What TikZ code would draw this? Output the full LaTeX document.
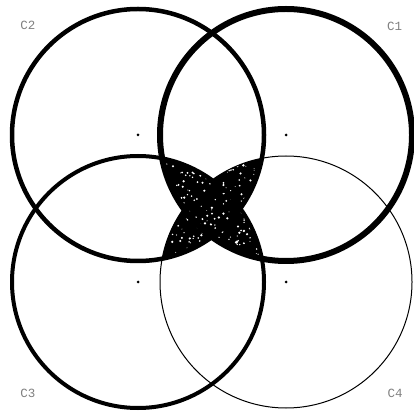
\documentclass[tikz,border=0pt]{standalone}
\usepackage{fontspec}
\newfontfamily\labfont{Liberation Mono}
\begin{document}
\begin{tikzpicture}[x=1pt,y=1pt,
  lab/.style={font=\labfont\fontsize{12.5}{14}\selectfont, text=black!50, inner sep=0pt},
  speck/.style={fill=white, draw=none}]
\useasboundingbox (0,0) rectangle (414,412);
\def\R{126}
\coordinate (c1) at (286,277);
\coordinate (c2) at (138,277);
\coordinate (c3) at (138,130);
\coordinate (c4) at (286,130);
% textured fill of the two lenses
\pgfmathsetseed{11}
\begin{scope}
  \clip (c2) circle (\R);
  \clip (c4) circle (\R);
  \fill[black] (150,140) rectangle (275,275);
  \foreach \i in {1,...,320} {
    \pgfmathsetmacro\xx{155+115*rnd}
    \pgfmathsetmacro\yy{145+125*rnd}
    \pgfmathsetmacro\rr{0.4+0.9*rnd}
    \fill[speck] (\xx,\yy) circle (\rr);
  }
\end{scope}
\begin{scope}
  \clip (c1) circle (\R);
  \clip (c3) circle (\R);
  \fill[black] (150,140) rectangle (275,275);
  \foreach \i in {1,...,320} {
    \pgfmathsetmacro\xx{155+115*rnd}
    \pgfmathsetmacro\yy{145+125*rnd}
    \pgfmathsetmacro\rr{0.4+0.9*rnd}
    \fill[speck] (\xx,\yy) circle (\rr);
  }
\end{scope}
% circles
\draw[line width=1pt] (c4) circle (\R);
\draw[line width=4pt] (c3) circle (\R);
\draw[line width=4.5pt] (c2) circle (\R);
\draw[line width=6pt] (c1) circle (\R);
% centers
\foreach \c in {c1,c2,c3,c4} \fill (\c) circle (1.5);
% labels
\node[lab] (l1) at (394.5,386) {C1};
\node[lab] (l2) at (28,386.5) {C2};
\node[lab] (l3) at (28,19) {C3};
\node[lab] (l4) at (395,19) {C4};
\end{tikzpicture}
\end{document}
